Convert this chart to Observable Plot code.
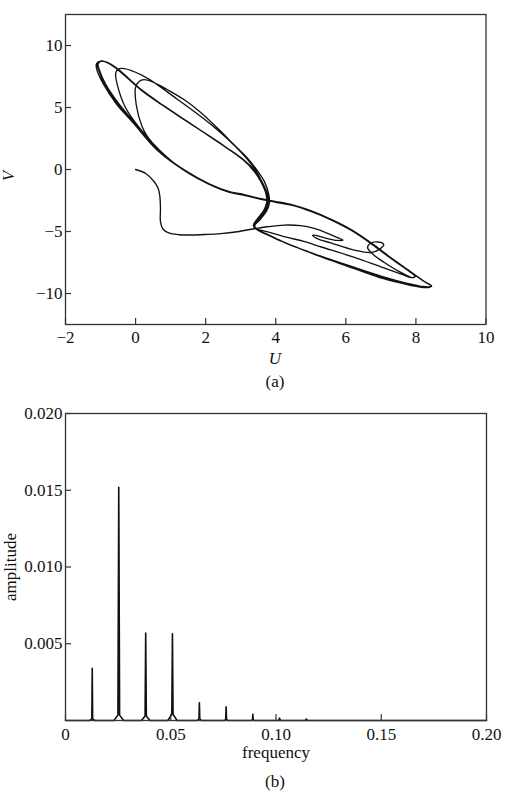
<!DOCTYPE html>
<html><head><meta charset="utf-8">
<script src="https://cdn.jsdelivr.net/npm/d3@7"></script>
<script src="https://cdn.jsdelivr.net/npm/@observablehq/plot@0.6"></script>
<style>
body{margin:0;background:#fff;}
#wrap{position:relative;width:513px;height:792px;font-family:"Liberation Serif","Times New Roman",serif;color:#111;overflow:hidden;}
.lbl{position:absolute;transform:translate(-50%,-50%);font-size:17px;white-space:nowrap;line-height:1;}
.rot{transform:translate(-50%,-50%) rotate(-90deg);}
#pa{position:absolute;left:0;top:0}
#pb{position:absolute;left:0;top:400px}
</style></head>
<body><div id="wrap"><div id="pa"></div><div id="pb"></div>
<div class="lbl" style="left:275px;top:358px;font-style:italic">U</div>
<div class="lbl rot" style="left:8px;top:176px;font-style:italic">V</div>
<div class="lbl" style="left:275px;top:381px">(a)</div>
<div class="lbl rot" style="left:10px;top:567px">amplitude</div>
<div class="lbl" style="left:276px;top:752px">frequency</div>
<div class="lbl" style="left:275px;top:781px">(b)</div>
</div>
<script>
// ---------- Panel (a): phase portrait (U, V) ----------
const transient = [[0,0],[0.29,-0.32],[0.52,-0.95],[0.64,-1.5],[0.69,-2.1],[0.71,-3.1],[0.71,-4.2],[0.78,-4.8],[0.95,-5.12],[1.25,-5.26],[1.6,-5.28],[2.0,-5.24],[2.43,-5.17],[2.9,-5.02],[3.38,-4.78]];
const hairpin = [[3.75,-4.62],[4.24,-4.48],[4.7,-4.52],[5.1,-4.75],[5.48,-5.15],[5.78,-5.52],[5.92,-5.7],[5.75,-5.72],[5.45,-5.55],[5.2,-5.35],[5.05,-5.3]];
const smallLoop = [[5.2,-5.6],[5.57,-5.92],[6.24,-6.5],[6.71,-6.7],[6.98,-6.4],[7.08,-6.05],[6.92,-5.85],[6.7,-5.95],[6.62,-6.3],[6.8,-6.9],[7.1,-7.5],[7.5,-8.2],[7.75,-8.55],[7.9,-8.72],[7.98,-8.6]];
const upper1 = [[7.85,-8.3],[7.3,-7.2],[6.8,-6.12],[6.2,-4.98],[5.6,-4.08],[5.0,-3.38],[4.5,-2.92],[4.0,-2.64],[3.55,-2.38]];
const bundleA1 = [[3.1,-2.08],[2.7,-1.85],[2.15,-1.25],[1.43,-0.15],[0.67,1.5],[0.0,3.7],[-0.48,5.3],[-0.86,6.9],[-1.03,8.0],[-1.07,8.5],[-1.0,8.72],[-0.85,8.68]];
const diagA1 = [[-0.55,8.2],[0.19,6.38],[0.8,5.15],[1.43,3.96],[2.0,2.9],[2.57,1.82],[3.1,0.75],[3.45,-0.25],[3.62,-1.05],[3.76,-2.0],[3.78,-2.7],[3.7,-3.35],[3.5,-4.05],[3.38,-4.5]];
const lower1 = [[3.45,-4.8],[3.7,-5.15],[4.0,-5.55],[4.3,-5.95],[4.8,-6.5],[5.2,-6.95],[6.2,-7.95],[7.1,-8.82],[7.7,-9.25],[8.1,-9.48],[8.35,-9.52],[8.45,-9.4]];
const upper2 = [[8.28,-9.1],[7.85,-8.25],[7.3,-7.15],[6.8,-6.08],[6.2,-4.93],[5.6,-4.05],[5.0,-3.33],[4.5,-2.88],[4.0,-2.6],[3.55,-2.35]];
const bundleC = [[3.1,-2.02],[2.7,-1.8],[2.1,-1.15],[1.4,-0.05],[0.76,1.3],[0.35,2.6],[0.19,3.42],[0.02,5.2],[0.0,6.64],[0.1,7.1],[0.24,7.25]];
const bulgeC = [[0.5,7.05],[0.9,6.45],[1.4,5.6],[1.86,4.6],[2.35,3.3],[2.81,2.0],[3.2,0.9],[3.5,-0.2],[3.68,-1.0],[3.8,-2.0],[3.82,-2.7],[3.74,-3.35],[3.55,-4.05],[3.4,-4.55]];
const lower2 = [[3.5,-4.9],[3.75,-5.25],[4.05,-5.65],[4.4,-6.05],[4.9,-6.6],[5.3,-7.0],[6.25,-7.9],[7.15,-8.72],[7.75,-9.18],[8.15,-9.42],[8.38,-9.46],[8.44,-9.35]];
const upper3 = [[8.25,-9.05],[7.82,-8.2],[7.28,-7.1],[6.78,-6.05],[6.18,-4.9],[5.58,-4.02],[4.98,-3.3],[4.48,-2.85],[3.98,-2.57],[3.5,-2.32]];
const bundleA2 = [[3.05,-2.0],[2.65,-1.78],[2.1,-1.2],[1.4,-0.1],[0.62,1.55],[-0.05,3.7],[-0.55,5.3],[-0.92,6.9],[-1.1,8.0],[-1.12,8.5],[-1.05,8.7],[-0.9,8.72]];
const diagA2 = [[-0.6,8.25],[0.15,6.42],[0.76,5.2],[1.4,4.0],[1.97,2.94],[2.54,1.86],[3.06,0.8],[3.4,-0.2],[3.58,-1.0],[3.72,-1.95],[3.74,-2.65],[3.66,-3.3],[3.47,-4.0],[3.36,-4.5]];
const innerLower = [[3.42,-4.75],[3.8,-5.05],[4.3,-5.45],[4.8,-5.8],[5.3,-6.25],[6.2,-7.05],[7.0,-7.85],[7.6,-8.45],[7.88,-8.72],[7.98,-8.62]];
const upper4 = [[7.8,-8.18],[7.26,-7.12],[6.76,-6.06],[6.16,-4.92],[5.56,-4.04],[4.96,-3.32],[4.46,-2.87],[3.96,-2.6],[3.52,-2.36]];
const bundleB = [[3.08,-2.05],[2.68,-1.82],[2.12,-1.2],[1.3,0.1],[0.67,1.6],[0.1,3.4],[-0.29,5.0],[-0.5,6.6],[-0.57,7.7],[-0.52,8.05],[-0.38,8.15]];
const bulgeB = [[-0.1,7.95],[0.4,7.25],[1.2,5.65],[2.1,3.75],[2.85,1.85],[3.35,0.25],[3.6,-0.95],[3.73,-1.95],[3.76,-2.7],[3.68,-3.32],[3.5,-4.02],[3.38,-4.5]];
const lower3 = [[3.45,-4.82],[3.72,-5.2],[4.02,-5.6],[4.35,-6.0],[4.85,-6.55],[5.25,-6.98],[6.22,-7.92],[7.12,-8.78],[7.72,-9.22],[8.12,-9.46],[8.36,-9.5],[8.44,-9.38]];
const upper5 = [[8.27,-9.08],[7.84,-8.23],[7.29,-7.13],[6.79,-6.07],[6.19,-4.92],[5.59,-4.04],[4.99,-3.32],[4.49,-2.87],[3.99,-2.59],[3.53,-2.35]];
const bundleA3 = [[3.08,-2.05],[2.68,-1.84],[2.12,-1.22],[1.42,-0.12],[0.65,1.52],[-0.02,3.7],[-0.5,5.3],[-0.88,6.9],[-1.05,8.0],[-1.09,8.5],[-1.02,8.72],[-0.87,8.7]];
const diagA3 = [[-0.57,8.22],[0.17,6.4],[0.78,5.17],[1.41,3.98],[1.98,2.92],[2.55,1.84],[3.08,0.77],[3.43,-0.22],[3.6,-1.02],[3.74,-1.98],[3.76,-2.68]];

const trajectory = [transient, hairpin, smallLoop, upper1, bundleA1, diagA1,
  lower1, upper2, bundleC, bulgeC,
  lower2, upper3, bundleA2, diagA2,
  innerLower, upper4, bundleB, bulgeB,
  lower3, upper5, bundleA3, diagA3].flat();

const xTicksA = [-2, 0, 2, 4, 6, 8, 10];
const xLabelsA = ["\u22122", "0", "2", "4", "6", "8", "10"];
const yTicksA = [-10, -5, 0, 5, 10];
const yLabelsA = ["\u221210", "\u22125", "0", "5", "10"];

// ---------- Panel (b): amplitude spectrum ----------
const specFreq = [0, 0.0115, 0.0125, 0.0127, 0.0129, 0.0139,
  0.0230, 0.0249, 0.0253, 0.0257, 0.0276,
  0.0361, 0.0378, 0.0381, 0.0384, 0.0401,
  0.0486, 0.0505, 0.0508, 0.0511, 0.0530,
  0.0626, 0.0634, 0.0636, 0.0638, 0.0646,
  0.0755, 0.0761, 0.0763, 0.0765, 0.0771,
  0.0884, 0.0888, 0.0890, 0.0892, 0.0896,
  0.1013, 0.1017, 0.1021,
  0.1140, 0.1144, 0.1148, 0.2];
const specAmp = [0, 0, 0.0001, 0.0034, 0.0001, 0,
  0, 0.00035, 0.0152, 0.00035, 0,
  0, 0.0003, 0.0057, 0.0003, 0,
  0, 0.0004, 0.00565, 0.0004, 0,
  0, 0.0001, 0.00115, 0.0001, 0,
  0, 0.00005, 0.0009, 0.00005, 0,
  0, 0.00003, 0.0004, 0.00003, 0,
  0, 0.00015, 0,
  0, 0.0001, 0, 0];

const xTicksB = [0, 0.05, 0.1, 0.15, 0.2];
const xLabelsB = ["0", "0.05", "0.10", "0.15", "0.20"];
const yTicksB = [0.005, 0.01, 0.015, 0.02];
const yLabelsB = ["0.005", "0.010", "0.015", "0.020"];

const style = {fontFamily: "'Liberation Serif','Times New Roman',serif", fontSize: "17px", background: "transparent", color: "#111", overflow: "visible"};
const fmt = (ticks, labels) => { const m = new Map(ticks.map((t, i) => [t, labels[i]])); return d => m.get(d); };

// Panel (a)
{
  const W = 513, H = 350, mL = 65, mR = 27.5, mT = 14, mB = 26;
  const pw = W - mL - mR, ph = H - mT - mB;
  const chart = Plot.plot({
    width: W, height: H, marginLeft: mL, marginRight: mR, marginTop: mT, marginBottom: mB,
    style,
    x: {domain: [-2, 10]},
    y: {domain: [-12.5, 12.5]},
    marks: [
      Plot.line(trajectory, {x: d => d[0], y: d => d[1], curve: "catmull-rom", stroke: "#111", strokeWidth: 1.35}),
      Plot.frame({stroke: "#333", strokeWidth: 1.3}),
      Plot.tickX(xTicksA, {x: d => d, insetTop: ph - 6, stroke: "#333", strokeWidth: 1.2}),
      Plot.tickY(yTicksA, {y: d => d, insetRight: pw - 6, stroke: "#333", strokeWidth: 1.2}),
      Plot.axisX(xTicksA, {tickSize: 0, tickPadding: 6, tickFormat: fmt(xTicksA, xLabelsA), label: null, fill: "#111"}),
      Plot.axisY(yTicksA, {tickSize: 0, tickPadding: 3, tickFormat: fmt(yTicksA, yLabelsA), label: null, fill: "#111"})
    ]
  });
  document.getElementById("pa").appendChild(chart);
}

// Panel (b)
{
  const W = 513, H = 346, mL = 65, mR = 27, mT = 13, mB = 26;
  const pw = W - mL - mR, ph = H - mT - mB;
  const spectrum = specFreq.map((f, i) => ({f, a: specAmp[i]}));
  const chart = Plot.plot({
    width: W, height: H, marginLeft: mL, marginRight: mR, marginTop: mT, marginBottom: mB,
    style,
    x: {domain: [0, 0.2]},
    y: {domain: [0, 0.02]},
    marks: [
      Plot.line(spectrum, {x: "f", y: "a", stroke: "#111", strokeWidth: 1.6}),
      Plot.frame({stroke: "#333", strokeWidth: 1.3}),
      Plot.tickX(xTicksB, {x: d => d, insetTop: ph - 6, stroke: "#333", strokeWidth: 1.2}),
      Plot.tickY(yTicksB, {y: d => d, insetRight: pw - 6, stroke: "#333", strokeWidth: 1.2}),
      Plot.axisX(xTicksB, {tickSize: 0, tickPadding: 7, tickFormat: fmt(xTicksB, xLabelsB), label: null, fill: "#111"}),
      Plot.axisY(yTicksB, {tickSize: 0, tickPadding: 3, tickFormat: fmt(yTicksB, yLabelsB), label: null, fill: "#111"})
    ]
  });
  document.getElementById("pb").appendChild(chart);
}
</script>
</body></html>
